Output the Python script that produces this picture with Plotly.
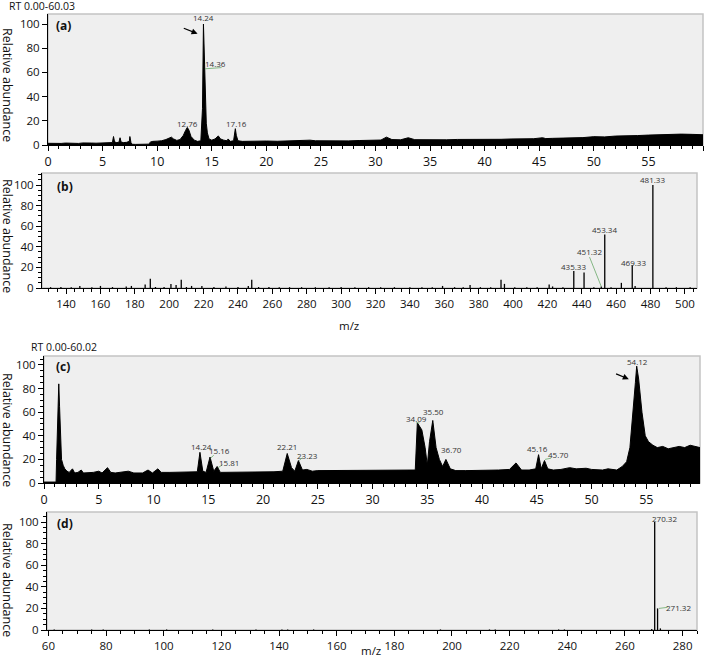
import plotly.graph_objects as go

# ---------------- data ----------------
# (a) chromatogram, RT 0.00-60.03
rt_a = [0.0, 0.4, 0.8, 1.2, 1.6, 2.0, 2.4, 2.8, 3.2, 3.6,
        4.0, 4.4, 4.8, 5.2, 5.6, 5.9, 6.0, 6.1, 6.3, 6.5,
        6.6, 6.7, 6.9, 7.2, 7.45, 7.5, 7.6, 7.7, 8.0, 8.4,
        8.8, 9.2, 9.4, 9.6, 10.0, 10.4, 10.8, 11.1, 11.3, 11.5,
        11.8, 12.1, 12.4, 12.6, 12.76, 12.9, 13.1, 13.4, 13.7, 14.0,
        14.15, 14.24, 14.3, 14.36, 14.42, 14.5, 14.6, 14.75, 15.0, 15.3,
        15.6, 15.8, 16.1, 16.4, 16.5, 16.7, 17.0, 17.1, 17.16, 17.25,
        17.4, 17.8, 18.3, 19.0, 20.0, 21.0, 22.0, 23.0, 23.6, 24.0,
        24.5, 25.5, 26.5, 27.5, 28.5, 29.5, 30.5, 31.0, 31.5, 32.3,
        33.0, 33.6, 34.5, 35.5, 36.5, 37.5, 38.5, 39.5, 40.5, 41.5,
        42.5, 43.5, 44.5, 45.3, 45.6, 46.2, 47.0, 48.0, 49.0, 50.0,
        51.0, 52.0, 53.0, 54.0, 55.0, 56.0, 57.0, 58.0, 59.0, 60.0]
ab_a = [1.4, 1.2, 1.5, 1.3, 1.6, 1.4, 1.5, 1.3, 1.7, 1.4,
        1.6, 1.5, 1.7, 1.6, 1.8, 2.0, 7.0, 2.5, 2.0, 2.3,
        6.0, 2.4, 2.0, 2.2, 3.0, 7.0, 2.0, 0.6, 0.5, 0.6,
        0.5, 0.7, 2.5, 3.0, 3.2, 3.5, 4.5, 6.0, 6.5, 5.0,
        3.8, 4.5, 8.0, 12.0, 14.5, 12.5, 7.0, 4.0, 3.0, 3.5,
        30.0, 100.0, 80.0, 70.0, 40.0, 18.0, 10.0, 5.0, 4.0, 5.0,
        7.5, 5.0, 4.0, 3.5, 5.0, 3.0, 3.5, 10.0, 13.5, 8.0,
        3.5, 3.0, 3.2, 2.9, 3.3, 3.1, 3.4, 3.2, 3.6, 4.0,
        3.5, 3.3, 3.6, 3.4, 3.7, 3.6, 4.1, 6.5, 4.5, 4.3,
        6.0, 4.4, 4.2, 4.5, 4.3, 4.6, 4.5, 4.7, 4.8, 4.7,
        5.0, 4.9, 5.2, 6.0, 5.3, 5.5, 5.6, 5.9, 6.1, 6.9,
        6.7, 7.4, 7.3, 7.8, 8.2, 8.6, 9.0, 9.0, 8.8, 8.5]

# (b) mass spectrum
mz_b = [131.0, 137.0, 143.0, 148.0, 155.0, 160.0, 167.0, 175.0, 178.0, 186.0,
        189.0, 192.0, 197.0, 201.0, 204.0, 207.0, 210.0, 213.0, 219.0, 226.0,
        233.0, 240.0, 246.0, 248.0, 252.0, 258.0, 264.0, 270.0, 277.0, 285.0,
        293.0, 300.0, 308.0, 316.0, 323.0, 331.0, 340.0, 347.0, 353.0, 359.0,
        366.0, 371.0, 375.0, 381.0, 387.0, 393.0, 395.0, 401.0, 408.0, 414.0,
        421.0, 423.0, 429.0, 435.33, 441.3, 447.0, 451.32, 453.34, 457.0, 463.0,
        469.33, 471.0, 481.33, 489.0, 495.0, 503.0]
ab_b = [0.8, 1.0, 0.7, 2.0, 0.8, 2.0, 0.9, 1.5, 2.0, 3.5,
        9.0, 1.0, 1.0, 4.0, 3.0, 8.0, 1.0, 2.0, 2.0, 1.0,
        1.5, 1.0, 2.0, 8.0, 1.0, 1.0, 0.8, 0.8, 0.8, 0.8,
        0.8, 1.0, 0.8, 0.8, 0.8, 0.8, 0.8, 0.8, 0.8, 2.0,
        0.8, 0.8, 3.0, 0.8, 0.8, 8.0, 4.0, 0.8, 0.8, 0.8,
        3.5, 1.5, 0.8, 16.5, 15.0, 0.8, 1.5, 52.0, 0.8, 5.0,
        22.0, 2.0, 100.0, 0.8, 0.8, 0.8]

# (c) chromatogram, RT 0.00-60.02
rt_c = [0.0, 1.1, 1.15, 1.25, 1.35, 1.42, 1.5, 1.6, 1.75, 1.9,
        2.1, 2.3, 2.6, 2.8, 3.1, 3.4, 3.6, 4.0, 4.5, 5.0,
        5.3, 5.8, 6.1, 6.5, 7.0, 7.7, 8.2, 9.0, 9.5, 9.9,
        10.4, 10.7, 11.5, 12.5, 13.5, 14.0, 14.24, 14.5, 14.8, 15.16,
        15.5, 15.81, 16.1, 17.0, 18.0, 19.0, 20.0, 21.0, 21.8, 22.21,
        22.6, 22.9, 23.23, 23.6, 24.0, 24.5, 25.0, 26.0, 27.0, 28.0,
        29.0, 30.0, 31.0, 32.0, 33.0, 33.9, 34.09, 34.5, 34.8, 35.0,
        35.2, 35.5, 35.8, 36.1, 36.4, 36.7, 37.1, 37.6, 38.5, 39.5,
        40.5, 41.5, 42.5, 43.1, 43.6, 44.3, 44.9, 45.16, 45.4, 45.7,
        46.0, 46.5, 47.2, 48.0, 48.6, 49.5, 50.0, 51.0, 51.5, 52.3,
        52.8, 53.2, 53.5, 53.8, 54.0, 54.12, 54.3, 54.6, 54.9, 55.2,
        55.6, 56.0, 56.5, 57.0, 57.5, 58.0, 58.5, 59.0, 59.9]
ab_c = [0.8, 0.8, 20.0, 45.0, 84.0, 65.0, 35.0, 20.0, 15.0, 12.0,
        10.0, 9.0, 12.0, 8.5, 9.0, 11.0, 8.5, 8.5, 9.0, 10.0,
        8.5, 13.0, 9.0, 8.5, 9.0, 10.0, 8.5, 8.5, 11.0, 8.5,
        12.0, 9.0, 9.0, 9.0, 9.0, 9.5, 26.0, 10.0, 9.0, 22.0,
        10.0, 14.0, 9.0, 9.0, 9.0, 9.5, 9.5, 9.5, 10.0, 25.0,
        13.0, 10.0, 19.0, 11.0, 11.5, 10.0, 10.5, 10.5, 10.5, 10.5,
        10.5, 11.0, 11.0, 11.0, 11.0, 11.0, 51.0, 45.0, 30.0, 15.0,
        35.0, 53.0, 30.0, 20.0, 14.0, 20.0, 12.0, 10.5, 10.5, 10.5,
        10.5, 11.0, 11.5, 17.0, 11.0, 11.0, 12.0, 24.0, 12.0, 19.0,
        12.0, 11.0, 11.5, 13.0, 12.0, 12.5, 11.5, 11.0, 12.0, 11.0,
        14.0, 18.0, 30.0, 60.0, 85.0, 99.0, 88.0, 60.0, 40.0, 35.0,
        32.0, 30.0, 31.0, 29.0, 30.0, 31.0, 30.0, 32.0, 30.0]

# (d) mass spectrum
mz_d = [62.0, 75.0, 79.0, 95.0, 101.0, 117.0, 132.0, 141.0, 143.0, 152.0,
        196.0, 213.0, 215.0, 237.0, 239.0, 269.3, 270.32, 271.32, 272.3]
ab_d = [0.5, 0.5, 0.5, 0.5, 0.5, 0.5, 0.5, 0.5, 0.5, 0.5,
        0.5, 0.5, 0.5, 0.5, 0.5, 1.0, 100.0, 20.0, 1.5]

# peak labels: (text, x, y)
labels_a = [("14.24", 14.24, 105), ("14.36", 15.3, 67), ("12.76", 12.8, 18), ("17.16", 17.25, 18)]
labels_b = [("481.33", 481.33, 105), ("453.34", 453.34, 57), ("451.32", 444.7, 35),
            ("435.33", 435.33, 21), ("469.33", 469.8, 25)]
labels_c = [("14.24", 14.4, 31), ("15.16", 16.0, 27.5), ("15.81", 16.9, 17),
            ("22.21", 22.2, 31), ("23.23", 24.1, 23), ("34.09", 34.0, 55),
            ("35.50", 35.6, 61), ("36.70", 37.2, 28), ("45.16", 45.1, 29),
            ("45.70", 47.0, 24), ("54.12", 54.2, 103)]
labels_d = [("270.32", 273.6, 103), ("271.32", 278.5, 21)]

W, H = 709, 658
# panel pixel boxes: (left, right, top, bottom)
boxes = {"a": (48, 703, 14, 145), "b": (42, 697, 173, 288),
         "c": (44, 700, 356, 483), "d": (47, 697, 512, 630)}


def dom(b):
    l, r, t, bt = b
    return [l / W, r / W], [1 - bt / H, 1 - t / H]


def sticks(xs, ys):
    X, Y = [], []
    for x, y in zip(xs, ys):
        X += [x, x, None]
        Y += [0, y, None]
    return X, Y


fig = go.Figure()
fig.add_trace(go.Scatter(x=rt_a, y=ab_a, mode="lines", line=dict(color="black", width=1),
                         fill="tozeroy", fillcolor="black", xaxis="x", yaxis="y", showlegend=False))
bx, by = sticks(mz_b, ab_b)
fig.add_trace(go.Scatter(x=bx, y=by, mode="lines", line=dict(color="black", width=1.3),
                         xaxis="x2", yaxis="y2", showlegend=False))
fig.add_trace(go.Scatter(x=rt_c, y=ab_c, mode="lines", line=dict(color="black", width=1),
                         fill="tozeroy", fillcolor="black", xaxis="x3", yaxis="y3", showlegend=False))
dx, dy = sticks(mz_d, ab_d)
fig.add_trace(go.Scatter(x=dx, y=dy, mode="lines", line=dict(color="black", width=1.3),
                         xaxis="x4", yaxis="y4", showlegend=False))

ytickfont = dict(family="Open Sans", size=11.5, color="#111")


def xax(domain, rng, dtick, minor, tickvals=None, fsize=12):
    d = dict(domain=domain, range=rng, showgrid=False, zeroline=False, showline=True,
             automargin=False,
             linecolor="black", linewidth=1, ticks="outside", ticklen=5, tickcolor="black",
             tickfont=dict(family="Open Sans", size=fsize, color="#111"),
             minor=dict(dtick=minor, ticks="outside", ticklen=3, tickcolor="black", showgrid=False))
    if tickvals is not None:
        d["tickvals"] = tickvals
    else:
        d["dtick"] = dtick
    return d


def yax(domain, rng, anchor, minor=True):
    d = dict(domain=domain, range=rng, anchor=anchor, showgrid=False, zeroline=False, showline=True,
             automargin=False,
             linecolor="black", linewidth=1, ticks="outside", ticklen=5, tickcolor="black",
             tickvals=[0, 20, 40, 60, 80, 100], tickfont=ytickfont)
    if minor:
        d["minor"] = dict(dtick=5, ticks="outside", ticklen=3, tickcolor="black", showgrid=False)
    return d


xa, ya = dom(boxes["a"])
xb, yb = dom(boxes["b"])
xc, yc = dom(boxes["c"])
xd, yd = dom(boxes["d"])

fig.update_layout(
    width=W, height=H, margin=dict(l=0, r=0, t=0, b=0, autoexpand=False),
    paper_bgcolor="white", plot_bgcolor="#efefef",
    font=dict(family="Open Sans", color="#111"),
    xaxis=dict(**xax(xa, [0, 60], 5, 1, fsize=12.5), anchor="y"),
    yaxis=yax(ya, [0, 108.3], "x", minor=False),
    xaxis2=dict(**xax(xb, [126, 507], 20, 5, tickvals=list(range(140, 501, 20)), fsize=11.5), anchor="y2"),
    yaxis2=yax(yb, [0, 111.7], "x2"),
    xaxis3=dict(**xax(xc, [0, 59.9], 5, 1, tickvals=list(range(0, 56, 5)), fsize=12.5), anchor="y3"),
    yaxis3=yax(yc, [0, 107.6], "x3"),
    xaxis4=dict(**xax(xd, [59.5, 285], 20, 5, tickvals=list(range(60, 281, 20)), fsize=11.5), anchor="y4"),
    yaxis4=yax(yd, [0, 109.3], "x4"),
)

shapes = []
for key in "abcd":
    l, r, t, bt = boxes[key]
    shapes.append(dict(type="rect", xref="paper", yref="paper", x0=l / W, x1=r / W,
                       y0=1 - bt / H, y1=1 - t / H, line=dict(color="#c4c4c4", width=1.5),
                       layer="below"))
green = dict(color="#6aa86a", width=0.8)
shapes += [
    dict(type="line", xref="x", yref="y", x0=14.4, y0=63, x1=15.9, y1=64, line=green),
    dict(type="line", xref="x2", yref="y2", x0=444.5, y0=30, x1=451.3, y1=1.5, line=green),
    dict(type="line", xref="x3", yref="y3", x0=15.2, y0=21, x1=15.5, y1=23.5, line=green),
    dict(type="line", xref="x3", yref="y3", x0=15.9, y0=13, x1=16.3, y1=15.5, line=green),
    dict(type="line", xref="x3", yref="y3", x0=23.3, y0=19, x1=23.6, y1=21.5, line=green),
    dict(type="line", xref="x3", yref="y3", x0=34.0, y0=51, x1=34.3, y1=51, line=green),
    dict(type="line", xref="x3", yref="y3", x0=45.75, y0=20, x1=46.3, y1=21, line=green),
    dict(type="line", xref="x4", yref="y4", x0=271.8, y0=20, x1=274.8, y1=21, line=green),
]
fig.update_layout(shapes=shapes)

ann = []
for lst, xr, yr in [(labels_a, "x", "y"), (labels_b, "x2", "y2"), (labels_c, "x3", "y3"), (labels_d, "x4", "y4")]:
    for txt, x, y in lst:
        ann.append(dict(text=txt, x=x, y=y, xref=xr, yref=yr, showarrow=False,
                        xanchor="center", yanchor="middle",
                        font=dict(family="Open Sans", size=8, color="#333")))

# arrows
ann.append(dict(text="", x=13.7, y=92, ax=12.3, ay=97, xref="x", yref="y", axref="x", ayref="y",
                showarrow=True, arrowhead=2, arrowsize=1, arrowwidth=1.2, arrowcolor="black"))
ann.append(dict(text="", x=53.4, y=88, ax=52.1, ay=93, xref="x3", yref="y3", axref="x3", ayref="y3",
                showarrow=True, arrowhead=2, arrowsize=1, arrowwidth=1.2, arrowcolor="black"))


def ptext(txt, px, py, size, angle=0):
    return dict(text=txt, x=px / W, y=1 - py / H, xref="paper", yref="paper",
                xanchor="center", yanchor="middle", showarrow=False, textangle=angle,
                font=dict(family="Open Sans", size=size, color="#111"))


# panel letters
for txt, px, py in [("(a)", 63, 25), ("(b)", 65, 186), ("(c)", 63, 366), ("(d)", 65, 523)]:
    ann.append(ptext("<b>%s</b>" % txt, px, py, 12))

# y titles
for py in [85, 236, 430, 580]:
    ann.append(ptext("Relative abundance", 8, py, 12.5, 90))

# RT and m/z texts
ann.append(ptext("RT 0.00-60.03", 42, 6, 10.5))
ann.append(ptext("RT 0.00-60.02", 64, 347, 10.5))
ann.append(ptext("m/z", 349, 325, 11.5))
ann.append(ptext("m/z", 371, 650, 11.5))

fig.update_layout(annotations=ann)
fig.write_html("out.html", config={"displayModeBar": False},
               post_script="document.body.style.margin='0';")
